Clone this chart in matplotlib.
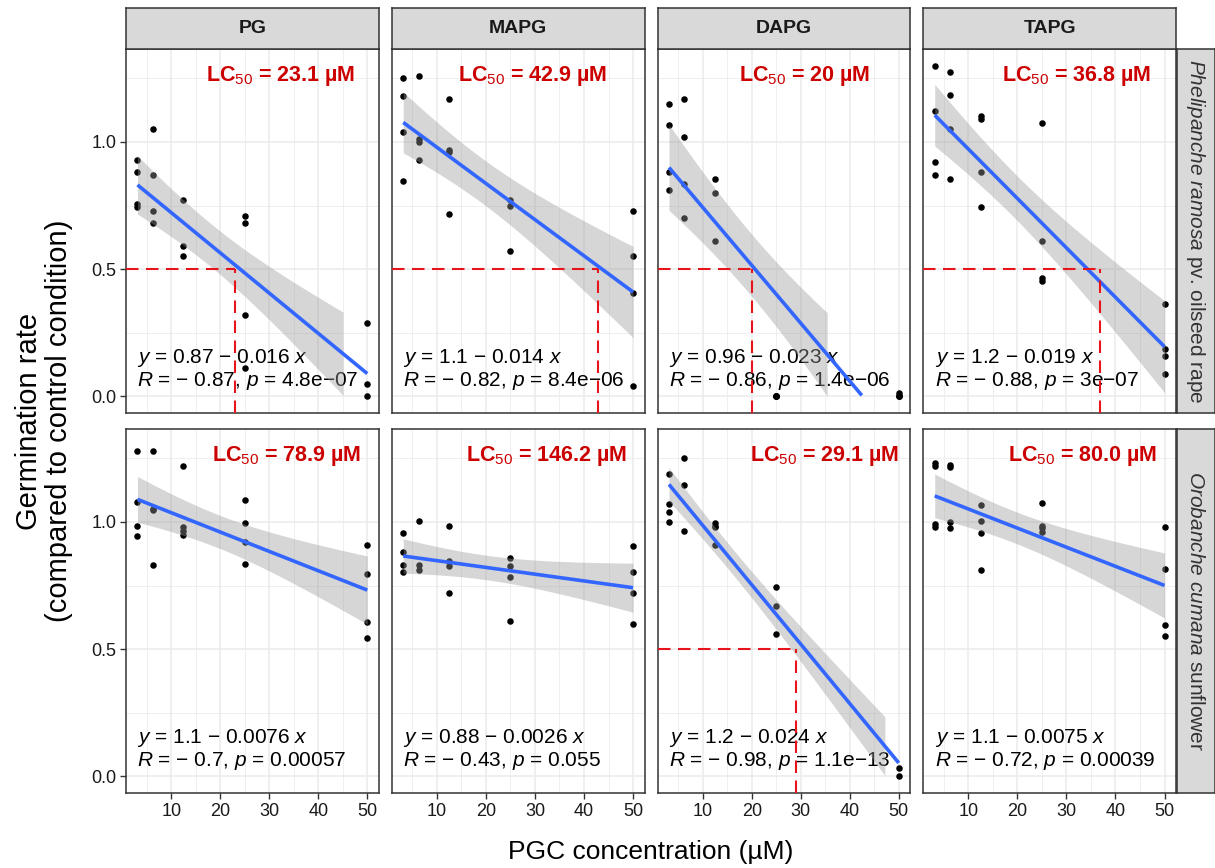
import numpy as np
import matplotlib
matplotlib.use("Agg")
import matplotlib.pyplot as plt

plt.rcParams['font.family'] = ['Liberation Sans', 'DejaVu Sans']
plt.rcParams['mathtext.fontset'] = 'custom'
plt.rcParams['mathtext.rm'] = 'Liberation Sans'
plt.rcParams['mathtext.it'] = 'Liberation Sans:italic'
plt.rcParams['mathtext.bf'] = 'Liberation Sans:bold'

# ---------------- data ----------------
conc = [3.125, 6.25, 12.5, 25, 50]
compounds = ['PG', 'MAPG', 'DAPG', 'TAPG']
species = [r'$\mathit{Phelipanche\ ramosa}$ pv. oilseed rape',
           r'$\mathit{Orobanche\ cumana}$ sunflower']

# germination rates, one list per concentration
ramosa_PG = [[0.93, 0.88, 0.755, 0.745], [1.05, 0.87, 0.73, 0.68], [0.77, 0.59, 0.55],
             [0.71, 0.68, 0.32, 0.11], [0.29, 0.05, 0.0]]
ramosa_MAPG = [[1.25, 1.18, 1.04, 0.845], [1.26, 1.01, 1.0, 0.93], [1.17, 0.97, 0.96, 0.715],
               [0.77, 0.75, 0.57], [0.73, 0.55, 0.405, 0.04]]
ramosa_DAPG = [[1.15, 1.065, 0.88, 0.81], [1.17, 1.02, 0.835, 0.70], [0.855, 0.80, 0.61],
               [0.0, 0.0, 0.0, 0.0], [0.012, 0.0, 0.0, 0.0]]
ramosa_TAPG = [[1.30, 1.12, 0.92, 0.87], [1.275, 1.185, 1.05, 0.855], [1.10, 1.09, 0.88, 0.745],
               [1.075, 0.61, 0.465, 0.455], [0.365, 0.185, 0.16, 0.09]]

cumana_PG = [[1.28, 1.08, 0.985, 0.945], [1.28, 1.05, 1.045, 0.83], [1.22, 0.98, 0.965, 0.95],
             [1.085, 0.995, 0.92, 0.835], [0.91, 0.795, 0.605, 0.545]]
cumana_MAPG = [[0.955, 0.88, 0.83, 0.805], [1.005, 0.83, 0.81], [0.985, 0.845, 0.825, 0.72],
               [0.86, 0.825, 0.785, 0.61], [0.905, 0.805, 0.72, 0.60]]
cumana_DAPG = [[1.19, 1.07, 1.04, 1.0], [1.25, 1.145, 0.965], [0.995, 0.985, 0.98, 0.91],
               [0.745, 0.67, 0.56], [0.035, 0.0]]
cumana_TAPG = [[1.23, 1.22, 0.99, 0.98], [1.225, 1.215, 1.0, 0.975], [1.065, 1.005, 0.955, 0.81],
               [1.075, 0.985, 0.975, 0.96], [0.98, 0.815, 0.595, 0.55]]

panel_data = [[ramosa_PG, ramosa_MAPG, ramosa_DAPG, ramosa_TAPG],
              [cumana_PG, cumana_MAPG, cumana_DAPG, cumana_TAPG]]

lc50_ramosa = ['23.1', '42.9', '20', '36.8']
lc50_cumana = ['78.9', '146.2', '29.1', '80.0']
lc50_labels = [lc50_ramosa, lc50_cumana]

eq_ramosa = ['0.87 − 0.016', '1.1 − 0.014', '0.96 − 0.023', '1.2 − 0.019']
eq_cumana = ['1.1 − 0.0076', '0.88 − 0.0026', '1.2 − 0.024', '1.1 − 0.0075']
r_ramosa = ['− 0.87', '− 0.82', '− 0.86', '− 0.88']
r_cumana = ['− 0.7', '− 0.43', '− 0.98', '− 0.72']
p_ramosa = ['4.8e−07', '8.4e−06', '1.4e−06', '3e−07']
p_cumana = ['0.00057', '0.055', '1.1e−13', '0.00039']
eq_labels = [eq_ramosa, eq_cumana]
r_labels = [r_ramosa, r_cumana]
p_labels = [p_ramosa, p_cumana]

x_ticks = [10, 20, 30, 40, 50]
y_ticks = [0.0, 0.5, 1.0]
y_ticklabels = ['0.0', '0.5', '1.0']

# ---------------- layout ----------------
W, H = 1215, 868
fig = plt.figure(figsize=(W / 100, H / 100), dpi=100)


def rect(l, t, w, h):
    return [l / W, 1 - (t + h) / H, w / W, h / H]


col_left = [126, 391.75, 657.5, 923.25]
col_w = 252.75
row_top = [49, 429]
row_h = 364
lc_text_x = [[32.4, 29.5, 30.9, 32.0], [33.6, 32.4, 34.8, 33.4]]

y_lim = (0.0, 1.3)
y_exp = 0.05 * (y_lim[1] - y_lim[0])
x_exp = 0.05 * (max(conc) - min(conc))
xlo, xhi = min(conc) - x_exp, max(conc) + x_exp
ylo, yhi = y_lim[0] - y_exp, y_lim[1] + y_exp

dark = '#333333'
blue = '#3366FF'


def t975(df):
    z = 1.959964
    return (z + (z ** 3 + z) / (4 * df) + (5 * z ** 5 + 16 * z ** 3 + 3 * z) / (96 * df ** 2)
            + (3 * z ** 7 + 19 * z ** 5 + 17 * z ** 3 - 15 * z) / (384 * df ** 3))


for r in range(2):
    for c in range(4):
        ax = fig.add_axes(rect(col_left[c], row_top[r], col_w, row_h))
        xs, ys = [], []
        for xv, vals in zip(conc, panel_data[r][c]):
            xs += [xv] * len(vals)
            ys += vals
        xs = np.array(xs, float)
        ys = np.array(ys, float)

        ax.set_xlim(xlo, xhi)
        ax.set_ylim(ylo, yhi)
        ax.set_xticks(x_ticks)
        ax.set_xticks([5, 15, 25, 35, 45], minor=True)
        ax.set_yticks(y_ticks)
        ax.set_yticks([0.25, 0.75, 1.25], minor=True)
        ax.grid(which='major', color='#EBEBEB', lw=1.1, zorder=0)
        ax.grid(which='minor', color='#EBEBEB', lw=0.55, zorder=0)
        ax.set_axisbelow(True)
        ax.tick_params(which='minor', length=0)
        ax.tick_params(which='major', length=4, width=1, color=dark, labelsize=13,
                       labelcolor='#1A1A1A', pad=3)
        for sp in ax.spines.values():
            sp.set_color(dark)
            sp.set_linewidth(1.1)
        if c == 0:
            ax.set_yticklabels(y_ticklabels)
        else:
            ax.tick_params(axis='y', length=0, labelleft=False)
        if r == 1:
            ax.set_xticklabels([str(v) for v in x_ticks])
        else:
            ax.tick_params(axis='x', length=0, labelbottom=False)

        # equation text (drawn beneath everything)
        ax.text(min(conc), 0.152, '$y$ = ' + eq_labels[r][c] + ' $x$', fontsize=15,
                ha='left', va='center', color='black', zorder=1)
        ax.text(min(conc), 0.060, '$R$ = ' + r_labels[r][c] + ', $p$ = ' + p_labels[r][c],
                fontsize=15, ha='left', va='center', color='black', zorder=1)

        # points
        ax.scatter(xs, ys, s=22, color='black', lw=0, zorder=2)

        # linear fit with 95% confidence band
        n = len(xs)
        b, a = np.polyfit(xs, ys, 1)
        xg = np.linspace(xs.min(), xs.max(), 200)
        yg = a + b * xg
        res = ys - (a + b * xs)
        s = np.sqrt(np.sum(res ** 2) / (n - 2))
        sxx = np.sum((xs - xs.mean()) ** 2)
        se = s * np.sqrt(1 / n + (xg - xs.mean()) ** 2 / sxx)
        tq = t975(n - 2)
        lo, hi = yg - tq * se, yg + tq * se
        ok = (lo >= y_lim[0]) & (hi <= y_lim[1])
        ax.fill_between(xg, lo, hi, where=ok, color='#999999', alpha=0.4, lw=0, zorder=3)
        ax.plot(xg, np.where(yg >= y_lim[0], yg, np.nan), color=blue, lw=2.6, zorder=4,
                solid_capstyle='butt')

        # LC50 guide lines
        lc = float(lc50_labels[r][c])
        if lc <= max(conc):
            ax.plot([xlo, lc], [0.5, 0.5], color='#E8141C', lw=1.5, ls=(0, (6, 3.6)), zorder=5)
            ax.plot([lc, lc], [ylo, 0.5], color='#E8141C', lw=1.5, ls=(0, (6, 3.6)), zorder=5)

        ax.text(lc_text_x[r][c], 1.258, 'LC$_{50}$ = ' + lc50_labels[r][c] + ' µM',
                fontsize=15.5, fontweight='bold', color='#CC0000', ha='center', va='center',
                zorder=6)

        # top strips
        if r == 0:
            sax = fig.add_axes(rect(col_left[c], 8, col_w, 41))
            sax.set_facecolor('#D9D9D9')
            sax.set_xticks([])
            sax.set_yticks([])
            for sp in sax.spines.values():
                sp.set_color(dark)
                sp.set_linewidth(1.1)
            sax.text(0.5, 0.5, compounds[c], transform=sax.transAxes, ha='center',
                     va='center', fontsize=14, fontweight='bold', color='#1A1A1A')
        # right strips
        if c == 3:
            sax = fig.add_axes(rect(1176.5, row_top[r], 38, row_h))
            sax.set_facecolor('#D9D9D9')
            sax.set_xticks([])
            sax.set_yticks([])
            for sp in sax.spines.values():
                sp.set_color(dark)
                sp.set_linewidth(1.1)
            sax.text(0.5, 0.5, species[r], transform=sax.transAxes, ha='center',
                     va='center', rotation=-90, fontsize=15, color='#333333')

fig.text(651 / W, 1 - 852 / H, 'PGC concentration (µM)', ha='center', va='center',
         fontsize=19, color='black')
fig.text(44 / W, 1 - 421 / H, 'Germination rate\n(compared to control condition)',
         ha='center', va='center', rotation=90, fontsize=21, color='black',
         multialignment='center', linespacing=1.1)

fig.savefig('out.png', dpi=100)
